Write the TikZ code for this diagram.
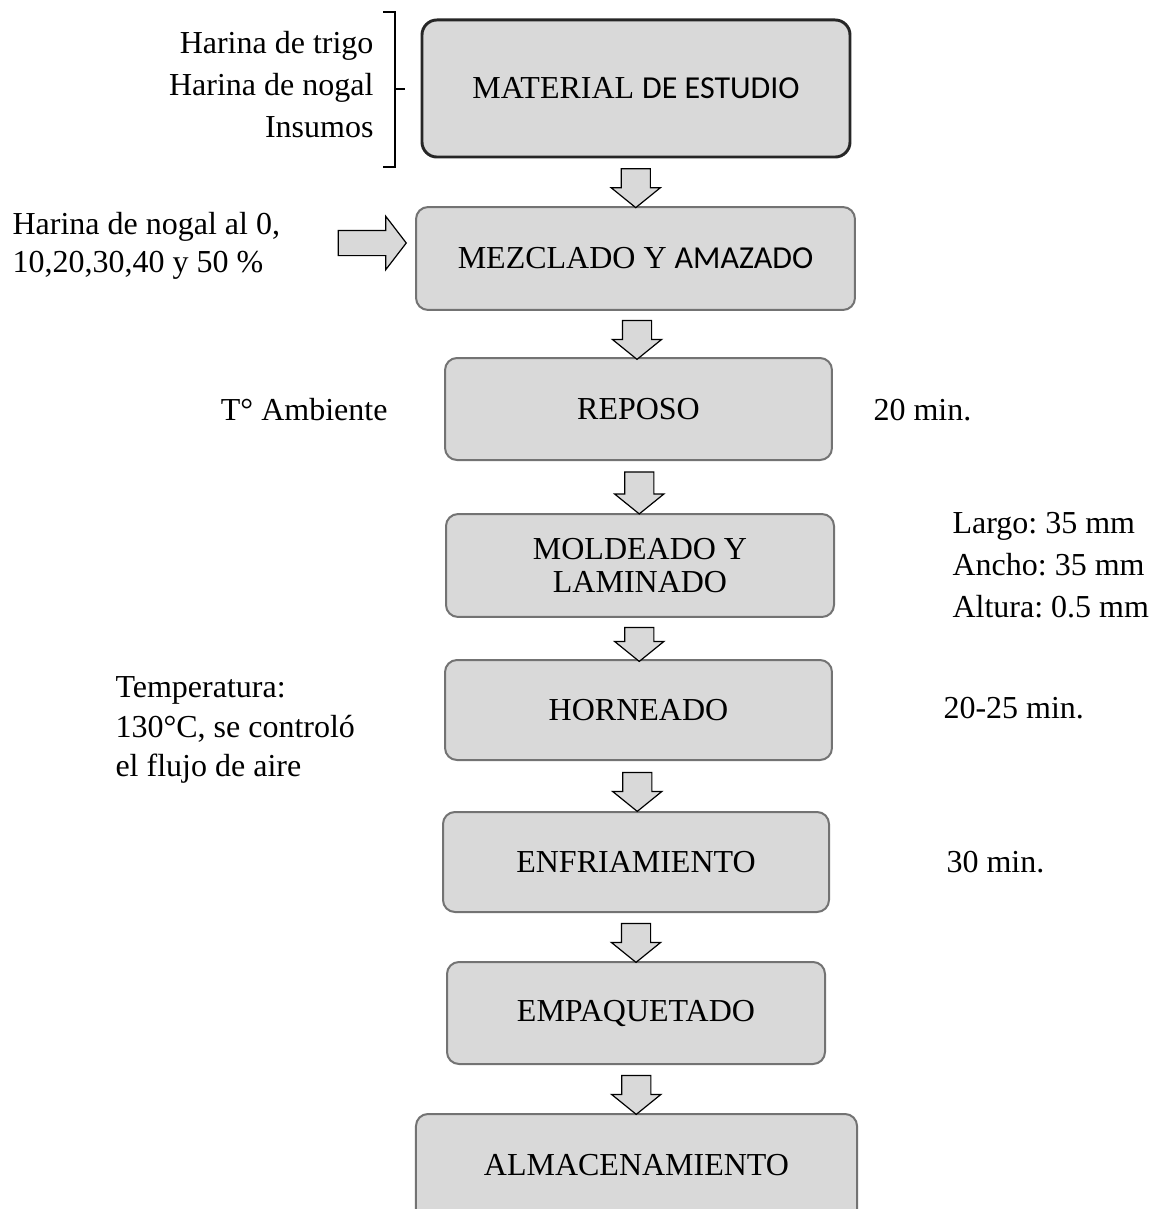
\documentclass[tikz,border=0pt]{standalone}
\usepackage{fontspec}
\setmainfont{Liberation Serif}
\newfontfamily\calibri{Carlito}
\usetikzlibrary{shapes.arrows,calc}
\definecolor{gris}{HTML}{D9D9D9}
\definecolor{borde}{HTML}{737373}
\frenchspacing

\begin{document}
\begin{tikzpicture}[x=0.375pt,y=-0.375pt,
    paso/.style={draw=borde,line width=0.75pt,fill=gris,rounded corners=4.5pt,
        align=center,font=\fontsize{12}{12.5}\selectfont},
    flecha/.style={single arrow,draw=black,line width=0.45pt,fill=gris,
        minimum width=0pt,inner xsep=0pt,inner ysep=5.25pt,
        single arrow head extend=3.75pt,single arrow tip angle=102,
        minimum height=14.6pt,rotate=-90},
    nota/.style={inner sep=0pt,font=\fontsize{12}{15.75}\selectfont}]
    \clip (0,0) rectangle (1159,1209);

    \node[paso,draw=black!85,line width=1.1pt,rounded corners=5.6pt,
        minimum width=160.5pt,minimum height=51.4pt] (mat) at (636,88.5)
        {MATERIAL {\calibri DE ESTUDIO}};
    \node[paso,minimum width=164.6pt,minimum height=38.6pt] (mez) at (635.5,258.5)
        {MEZCLADO Y {\calibri AMAZADO}};
    \node[paso,minimum width=145.1pt,minimum height=38.25pt] (rep) at (638.5,409) {REPOSO};
    \node[paso,minimum width=145.5pt,minimum height=38.6pt] (mol) at (640,565.5) {MOLDEADO Y\\LAMINADO};
    \node[paso,minimum width=145.1pt,minimum height=37.5pt] (hor) at (638.5,710) {HORNEADO};
    \node[paso,minimum width=144.75pt,minimum height=37.5pt] (enf) at (636,862) {ENFRIAMIENTO};
    \node[paso,minimum width=141.75pt,minimum height=38.25pt] (emp) at (636,1013) {EMPAQUETADO};
    \node[paso,minimum width=165.4pt,text height=19.9pt,text depth=28.6pt,anchor=north] (alm)
        at (636.5,1113) {ALMACENAMIENTO};

    \node[flecha] (f1) at ($(mat.south)!0.5!(mez.north)$) {};
    \node[flecha] (f2) at ($(mez.south)!0.5!(rep.north)$) {};
    \node[flecha,minimum height=15.75pt] (f3) at ($(rep.south)!0.5!(mol.north)$) {};
    \node[flecha,minimum height=12.75pt] (f4) at ($(mol.south)!0.5!(hor.north)$) {};
    \node[flecha] (f5) at ($(hor.south)!0.5!(enf.north)$) {};
    \node[flecha] (f6) at ($(enf.south)!0.5!(emp.north)$) {};
    \node[flecha] (f7) at ($(emp.south)!0.5!(alm.north)$) {};

    \node[nota,anchor=east,align=right] (insumos) at (374,85)
        {Harina de trigo\\Harina de nogal\\Insumos};
    \draw[line width=0.4pt] (383,12) -- (395,12) -- (395,167) -- (383,167);
    \draw[line width=0.4pt] (395,89) -- (405,89);

    \node[nota,anchor=west,align=left,font=\fontsize{12}{14.25}\selectfont] (nogal) at (12,246)
        {Harina de nogal al 0,\\10,20,30,40 y 50 \%};
    \node[flecha,rotate=90,inner ysep=4.5pt,single arrow head extend=5.25pt,
        single arrow tip angle=105,minimum height=25.5pt,anchor=tip] (fn) at (407,243) {};

    \node[nota,anchor=east] (amb) at (388,410) {T° Ambiente};
    \node[nota,anchor=west] (t1) at (873,410) {20 min.};
    \node[nota,anchor=west,align=left] (dim) at (952,565)
        {Largo: 35 mm\\Ancho: 35 mm\\Altura: 0.5 mm};
    \node[nota,anchor=west,align=left,font=\fontsize{12}{14.75}\selectfont] (temp) at (115,730)
        {Temperatura:\\130°C, se controló\\el flujo de aire};
    \node[nota,anchor=west] (t2) at (943,708) {20-25 min.};
    \node[nota,anchor=west] (t3) at (946,862) {30 min.};
\end{tikzpicture}
\end{document}
